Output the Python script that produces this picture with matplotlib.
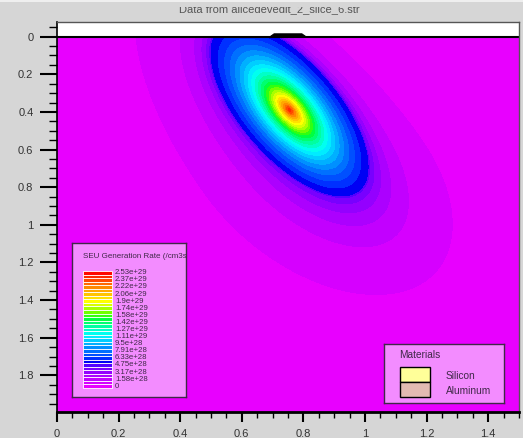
import numpy as np
import matplotlib
matplotlib.use("Agg")
import matplotlib.pyplot as plt
from matplotlib.patches import Rectangle, Polygon

plt.rcParams["font.family"] = ["Liberation Sans", "DejaVu Sans"]

W, H = 523, 438
BG = "#d6d6d6"

title = "Data from alicedevedit_2_slice_6.str"

# SEU generation rate levels (/cm3s), 33 levels, label on every other one
rate_max = 2.53e29
n_levels = 33
level_labels = ["2.53e+29", "2.37e+29", "2.22e+29", "2.06e+29", "1.9e+29",
                "1.74e+29", "1.58e+29", "1.42e+29", "1.27e+29", "1.11e+29",
                "9.5e+28", "7.91e+28", "6.33e+28", "4.75e+28", "3.17e+28",
                "1.58e+28", "0"]
level_colors = ["#e800ff", "#d600ff", "#c200ff", "#ac00ff", "#9400ff",
                "#7800ff", "#5400ff", "#0000f4", "#0030ff", "#0050ff",
                "#0070ff", "#0090ff", "#00b0ff", "#00ceff", "#00ecff",
                "#00fff0", "#00ffc8", "#00ffa0", "#00ff70", "#00ff40",
                "#30ff10", "#70ff00", "#a8ff00", "#d8ff00", "#ffff00",
                "#ffe000", "#ffc400", "#ffa800", "#ff8800", "#ff6800",
                "#ff4800", "#ff2800", "#ff0800"]

# ion track: core ellipse (um)
track_center = (0.755, 0.39)
track_dir = (0.40, 0.917)          # major axis direction
core_a, core_b = 0.50, 0.18
core_edge_rate = 5.4e28
core_shape = 0.95                  # radial falloff exponent
# diffusion halo around the track
halo_u0, halo_v0 = 0.30, -0.05
halo_a_up, halo_a_down, halo_b = 1.14, 0.73, 0.38
halo_start_rate = 4.7e28
halo_end_rate = 7.9e27

# device geometry
x_range = (0.0, 1.5)
y_range = (1.995, -0.078)
contact_x = [0.692, 0.705, 0.795, 0.808]
contact_y = [0.0, -0.015, -0.015, 0.0]

materials = ["Silicon", "Aluminum"]
material_colors = ["#ffff99", "#e2bab2"]

# ---- field
xs = np.linspace(0, 1.5, 451)
ys = np.linspace(0, 2.0, 601)
X, Y = np.meshgrid(xs, ys)
c, s = track_dir / np.hypot(*track_dir)
dx, dy = X - track_center[0], Y - track_center[1]
U = dx * c + dy * s
V = dx * s - dy * c

r1 = np.sqrt((U / core_a) ** 2 + (V / core_b) ** 2)
core = rate_max * np.exp(-np.log(rate_max / core_edge_rate) * r1 ** core_shape)

A = np.where(U < halo_u0, halo_a_up, halo_a_down)
r2 = np.sqrt(((U - halo_u0) / A) ** 2 + ((V - halo_v0) / halo_b) ** 2)
inner = np.clip(r1 - 1, 0, None)
outer = np.clip(1 - r2, 1e-9, None)
frac = inner / (inner + outer)
halo = halo_start_rate * (halo_end_rate / halo_start_rate) ** frac
halo = np.where(r2 >= 1, halo_end_rate * np.exp(-3 * (r2 - 1)), halo)

Z = np.where(r1 <= 1, core, halo)

levels = list(np.linspace(0, rate_max, n_levels)) + [1e31]


def fig_rect(x0, y0, x1, y1):
    return [x0 / W, 1 - y1 / H, (x1 - x0) / W, (y1 - y0) / H]


fig = plt.figure(figsize=(W / 100, H / 100), dpi=100, facecolor=BG)
ax = fig.add_axes(fig_rect(57, 22, 519, 412))
ax.set_facecolor("white")
ax.contourf(X, Y, Z, levels=levels, colors=level_colors, antialiased=False)
ax.axhline(0, color="black", lw=1.5)
ax.add_patch(Polygon(list(zip(contact_x, contact_y)), closed=True,
                     facecolor="black", edgecolor="black", lw=0.8))
ax.set_xlim(*x_range)
ax.set_ylim(*y_range)

ax.xaxis.set_major_locator(plt.MultipleLocator(0.2))
ax.xaxis.set_minor_locator(plt.MultipleLocator(0.05))
ax.yaxis.set_major_locator(plt.MultipleLocator(0.2))
ax.yaxis.set_minor_locator(plt.MultipleLocator(0.05))
ax.xaxis.set_major_formatter(plt.FuncFormatter(lambda v, p: f"{v:g}"))
ax.yaxis.set_major_formatter(plt.FuncFormatter(lambda v, p: f"{abs(v):g}"))
ax.tick_params(axis="x", which="major", direction="out", length=7, width=1.5,
               pad=5, labelsize=8, labelcolor="#333333")
ax.tick_params(axis="x", which="minor", direction="out", length=4.3, width=1)
ax.tick_params(axis="y", which="major", direction="out", length=12, width=1.5,
               pad=5, labelsize=8, labelcolor="#333333")
ax.tick_params(axis="y", which="minor", direction="out", length=6, width=1)
ax.spines["left"].set_linewidth(1.2)
ax.spines["bottom"].set_linewidth(2)
for side in ("top", "right"):
    ax.spines[side].set_color("#555555")
    ax.spines[side].set_linewidth(1)

# title, partly hidden under the window frame
fig.text(269 / W, 1 - 12.5 / H, title, ha="center", va="baseline",
         fontsize=8, color="#555555", zorder=1)
fig.add_artist(Rectangle((0, 1 - 7 / H), 1, 7 / H, transform=fig.transFigure,
                         facecolor=BG, edgecolor="none", zorder=10))
fig.add_artist(Rectangle((0, 1 - 2 / H), 1, 2 / H, transform=fig.transFigure,
                         facecolor="#efefef", edgecolor="none", zorder=11))

PINK = "#f38cff"
EDGE = "#402848"


def box(x0, y0, x1, y1):
    b = fig.add_axes(fig_rect(x0, y0, x1, y1))
    b.set_facecolor(PINK)
    b.set_xlim(0, x1 - x0)
    b.set_ylim(y1 - y0, 0)
    b.set_xticks([])
    b.set_yticks([])
    for sp in b.spines.values():
        sp.set_color(EDGE)
        sp.set_linewidth(1)
    return b


# generation-rate legend
lg = box(72, 243, 186, 397)
lg.text(11, 14, "SEU Generation Rate (/cm3s)", fontsize=5.8, color=EDGE,
        va="center", ha="left", clip_on=True)
stripe_h = (388 - 271) / n_levels
for i in range(n_levels):
    k = n_levels - 1 - i
    y0 = 271 - 243 + i * stripe_h
    lg.add_patch(Rectangle((11, y0), 29, stripe_h, facecolor=level_colors[k],
                           edgecolor="white", lw=0.6))
for j, lab in enumerate(level_labels):
    yc = 271 - 243 + (2 * j + 0.5) * stripe_h
    lg.text(43, yc, lab, fontsize=5.6, color=EDGE, va="center", ha="left")

# materials legend
mb = box(384, 344, 504, 403)
mb.text(15, 11, "Materials", fontsize=7.3, color=EDGE, va="center", ha="left")
for i, (name, col) in enumerate(zip(materials, material_colors)):
    mb.add_patch(Rectangle((16, 23 + i * 15), 30, 15, facecolor=col,
                           edgecolor="black", lw=1))
    mb.text(62, 32 + i * 15, name, fontsize=7.3, color=EDGE, va="center",
            ha="left")

fig.savefig("out.png", dpi=100, facecolor=BG)
